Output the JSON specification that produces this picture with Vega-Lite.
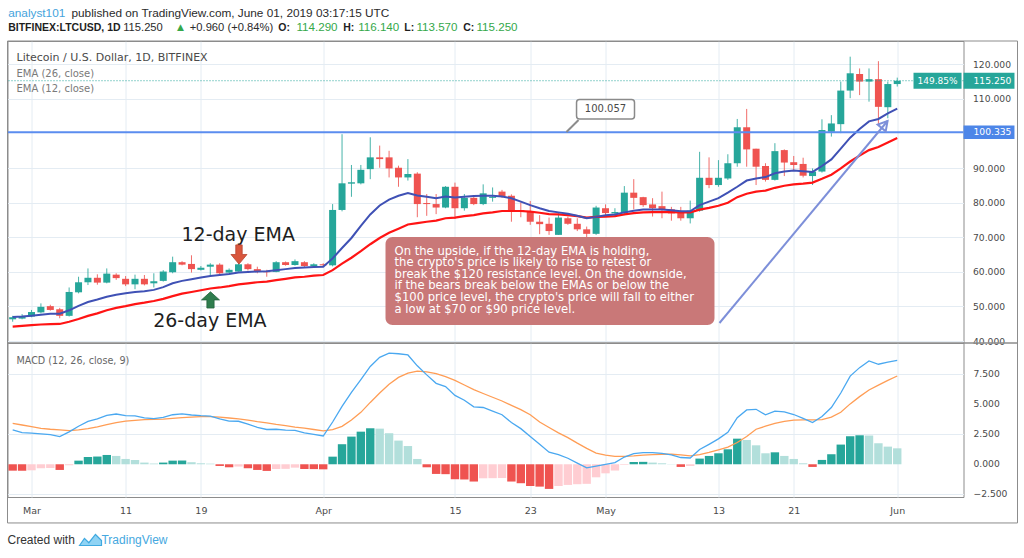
{
"$schema":"https://vega.github.io/schema/vega-lite/v6.json",
"background":"white",
"padding":{"left":5.5,"top":7,"right":0,"bottom":0},
"spacing":0,
"bounds":"flush",
"config":{"view":{"stroke":"#8c8c8c","strokeWidth":1},"scale":{"continuousPadding":0},"axis":{"labelFont":"DejaVu Sans","labelColor":"#4a4a4a","gridColor":"#e4ecf3","domain":false,"ticks":false,"labelFlush":false,"labelOverlap":false}},
"datasets":{"ltc":[
{"date":"2019-02-27","o":46.3,"h":47.3,"l":45.6,"c":46.9,"e12":47.0,"e26":44.2,"m":2.84,"s":3.39,"hi":-0.53},
{"date":"2019-02-28","o":46.5,"h":47.8,"l":46.3,"c":47.1,"e12":47.1,"e26":44.4,"m":2.62,"s":3.25,"hi":-0.53},
{"date":"2019-03-01","o":47.1,"h":49.0,"l":46.9,"c":48.4,"e12":47.3,"e26":44.6,"m":2.58,"s":3.12,"hi":-0.5},
{"date":"2019-03-02","o":48.3,"h":50.9,"l":48.0,"c":49.9,"e12":47.6,"e26":44.8,"m":2.52,"s":2.98,"hi":-0.33},
{"date":"2019-03-03","o":50.1,"h":50.5,"l":48.8,"c":49.0,"e12":47.9,"e26":44.9,"m":2.45,"s":2.9,"hi":-0.31},
{"date":"2019-03-04","o":49.2,"h":49.6,"l":46.6,"c":47.3,"e12":47.9,"e26":44.95,"m":2.29,"s":2.84,"hi":-0.47},
{"date":"2019-03-05","o":47.3,"h":55.5,"l":47.1,"c":54.2,"e12":48.9,"e26":45.6,"m":2.68,"s":2.78,"hi":-0.08},
{"date":"2019-03-06","o":54.1,"h":58.6,"l":53.8,"c":57.0,"e12":50.2,"e26":46.4,"m":3.15,"s":2.85,"hi":0.3},
{"date":"2019-03-07","o":57.0,"h":61.0,"l":56.2,"c":58.3,"e12":51.3,"e26":47.3,"m":3.55,"s":2.95,"hi":0.6},
{"date":"2019-03-08","o":58.3,"h":59.3,"l":56.3,"c":56.9,"e12":52.0,"e26":48.0,"m":3.75,"s":3.1,"hi":0.64},
{"date":"2019-03-09","o":56.9,"h":61.0,"l":56.7,"c":59.5,"e12":52.8,"e26":48.9,"m":4.05,"s":3.28,"hi":0.77},
{"date":"2019-03-10","o":59.2,"h":59.6,"l":57.7,"c":58.2,"e12":53.4,"e26":49.6,"m":4.16,"s":3.45,"hi":0.69},
{"date":"2019-03-11","o":58.0,"h":58.8,"l":55.9,"c":56.4,"e12":53.8,"e26":50.1,"m":4.02,"s":3.58,"hi":0.44},
{"date":"2019-03-12","o":56.4,"h":59.2,"l":55.0,"c":58.0,"e12":54.2,"e26":50.7,"m":4.0,"s":3.64,"hi":0.36},
{"date":"2019-03-13","o":58.0,"h":59.1,"l":56.1,"c":56.4,"e12":54.4,"e26":51.1,"m":3.84,"s":3.7,"hi":0.14},
{"date":"2019-03-14","o":56.7,"h":59.6,"l":55.5,"c":57.3,"e12":54.8,"e26":51.6,"m":3.78,"s":3.72,"hi":0.06},
{"date":"2019-03-15","o":57.4,"h":60.5,"l":57.2,"c":60.1,"e12":55.6,"e26":52.2,"m":3.88,"s":3.74,"hi":0.14},
{"date":"2019-03-16","o":59.9,"h":64.4,"l":59.6,"c":62.8,"e12":56.7,"e26":53.0,"m":4.1,"s":3.8,"hi":0.3},
{"date":"2019-03-17","o":62.8,"h":63.1,"l":61.9,"c":62.1,"e12":57.4,"e26":53.7,"m":4.17,"s":3.86,"hi":0.31},
{"date":"2019-03-18","o":62.3,"h":64.8,"l":59.8,"c":60.8,"e12":57.9,"e26":54.2,"m":4.08,"s":3.91,"hi":0.17},
{"date":"2019-03-19","o":60.6,"h":61.7,"l":60.4,"c":61.2,"e12":58.4,"e26":54.7,"m":4.02,"s":3.94,"hi":0.08},
{"date":"2019-03-20","o":61.5,"h":62.5,"l":59.0,"c":62.1,"e12":58.8,"e26":55.2,"m":3.99,"s":3.94,"hi":0.05},
{"date":"2019-03-21","o":62.1,"h":62.5,"l":59.1,"c":59.6,"e12":59.1,"e26":55.5,"m":3.76,"s":3.9,"hi":-0.14},
{"date":"2019-03-22","o":59.8,"h":61.0,"l":59.6,"c":60.6,"e12":59.4,"e26":55.9,"m":3.58,"s":3.83,"hi":-0.25},
{"date":"2019-03-23","o":60.1,"h":62.5,"l":60.1,"c":62.2,"e12":59.8,"e26":56.4,"m":3.56,"s":3.75,"hi":-0.19},
{"date":"2019-03-24","o":62.2,"h":62.5,"l":60.4,"c":60.8,"e12":60.0,"e26":56.7,"m":3.33,"s":3.66,"hi":-0.33},
{"date":"2019-03-25","o":60.8,"h":61.5,"l":59.6,"c":60.0,"e12":60.1,"e26":57.0,"m":3.06,"s":3.53,"hi":-0.47},
{"date":"2019-03-26","o":60.1,"h":60.6,"l":58.6,"c":59.9,"e12":60.2,"e26":57.2,"m":2.88,"s":3.42,"hi":-0.55},
{"date":"2019-03-27","o":60.0,"h":63.1,"l":59.9,"c":62.8,"e12":60.5,"e26":57.6,"m":2.9,"s":3.3,"hi":-0.39},
{"date":"2019-03-28","o":62.8,"h":63.0,"l":61.8,"c":62.0,"e12":60.8,"e26":58.0,"m":2.82,"s":3.2,"hi":-0.38},
{"date":"2019-03-29","o":62.0,"h":63.6,"l":61.8,"c":63.1,"e12":61.1,"e26":58.4,"m":2.8,"s":3.08,"hi":-0.28},
{"date":"2019-03-30","o":62.8,"h":63.1,"l":61.3,"c":61.7,"e12":61.3,"e26":58.6,"m":2.6,"s":2.99,"hi":-0.39},
{"date":"2019-03-31","o":61.7,"h":62.5,"l":61.4,"c":62.2,"e12":61.4,"e26":58.9,"m":2.48,"s":2.88,"hi":-0.4},
{"date":"2019-04-01","o":62.2,"h":62.5,"l":61.6,"c":61.9,"e12":61.5,"e26":59.1,"m":2.34,"s":2.76,"hi":-0.42},
{"date":"2019-04-02","o":61.9,"h":79.6,"l":61.6,"c":77.9,"e12":63.9,"e26":60.5,"m":3.5,"s":2.87,"hi":0.63},
{"date":"2019-04-03","o":77.9,"h":99.8,"l":77.5,"c":85.6,"e12":66.9,"e26":62.4,"m":4.8,"s":3.14,"hi":1.66},
{"date":"2019-04-04","o":85.5,"h":90.9,"l":81.7,"c":85.9,"e12":69.8,"e26":64.1,"m":5.95,"s":3.66,"hi":2.29},
{"date":"2019-04-05","o":85.6,"h":90.9,"l":85.3,"c":89.5,"e12":73.3,"e26":66.0,"m":7.0,"s":4.3,"hi":2.7},
{"date":"2019-04-06","o":89.7,"h":98.9,"l":86.8,"c":93.1,"e12":76.6,"e26":68.0,"m":8.1,"s":5.12,"hi":2.98},
{"date":"2019-04-07","o":93.1,"h":96.5,"l":90.1,"c":92.6,"e12":79.2,"e26":69.8,"m":8.85,"s":5.9,"hi":2.95},
{"date":"2019-04-08","o":93.1,"h":95.0,"l":87.3,"c":89.9,"e12":80.9,"e26":71.3,"m":9.2,"s":6.63,"hi":2.57},
{"date":"2019-04-09","o":90.1,"h":90.7,"l":84.6,"c":87.3,"e12":82.0,"e26":72.5,"m":9.15,"s":7.19,"hi":1.96},
{"date":"2019-04-10","o":87.3,"h":92.6,"l":86.4,"c":88.3,"e12":82.8,"e26":73.7,"m":9.05,"s":7.54,"hi":1.51},
{"date":"2019-04-11","o":88.4,"h":88.8,"l":75.8,"c":79.6,"e12":82.1,"e26":74.1,"m":8.15,"s":7.71,"hi":0.44},
{"date":"2019-04-12","o":79.9,"h":82.5,"l":76.2,"c":79.6,"e12":81.7,"e26":74.5,"m":7.4,"s":7.65,"hi":-0.25},
{"date":"2019-04-13","o":79.6,"h":82.5,"l":76.7,"c":78.6,"e12":81.3,"e26":74.8,"m":6.7,"s":7.5,"hi":-0.8},
{"date":"2019-04-14","o":78.6,"h":84.8,"l":78.4,"c":84.6,"e12":81.8,"e26":75.5,"m":6.43,"s":7.25,"hi":-0.82},
{"date":"2019-04-15","o":84.6,"h":85.8,"l":75.3,"c":78.4,"e12":81.5,"e26":75.7,"m":5.7,"s":6.94,"hi":-1.24},
{"date":"2019-04-16","o":78.4,"h":82.5,"l":77.7,"c":81.4,"e12":81.7,"e26":76.1,"m":5.3,"s":6.56,"hi":-1.26},
{"date":"2019-04-17","o":81.4,"h":81.7,"l":79.3,"c":79.6,"e12":81.9,"e26":76.4,"m":4.75,"s":6.18,"hi":-1.43},
{"date":"2019-04-18","o":79.6,"h":85.3,"l":79.3,"c":82.7,"e12":82.0,"e26":76.9,"m":4.7,"s":5.86,"hi":-1.16},
{"date":"2019-04-19","o":81.4,"h":84.4,"l":80.3,"c":81.7,"e12":82.0,"e26":77.2,"m":4.4,"s":5.55,"hi":-1.15},
{"date":"2019-04-20","o":83.2,"h":83.7,"l":81.4,"c":81.8,"e12":81.8,"e26":77.6,"m":4.1,"s":5.24,"hi":-1.14},
{"date":"2019-04-21","o":82.0,"h":82.4,"l":74.5,"c":77.6,"e12":81.3,"e26":77.6,"m":3.45,"s":4.88,"hi":-1.43},
{"date":"2019-04-22","o":77.9,"h":80.1,"l":75.8,"c":77.6,"e12":80.3,"e26":77.6,"m":2.95,"s":4.52,"hi":-1.57},
{"date":"2019-04-23","o":77.6,"h":80.5,"l":73.6,"c":74.5,"e12":79.3,"e26":77.4,"m":2.3,"s":4.1,"hi":-1.8},
{"date":"2019-04-24","o":74.5,"h":76.4,"l":70.9,"c":73.8,"e12":78.4,"e26":77.1,"m":1.65,"s":3.5,"hi":-1.85},
{"date":"2019-04-25","o":73.9,"h":75.7,"l":70.7,"c":71.8,"e12":77.6,"e26":76.7,"m":1.0,"s":3.04,"hi":-2.04},
{"date":"2019-04-26","o":70.7,"h":76.9,"l":70.7,"c":75.7,"e12":77.2,"e26":76.6,"m":0.8,"s":2.6,"hi":-1.8},
{"date":"2019-04-27","o":75.5,"h":76.0,"l":73.6,"c":73.9,"e12":76.8,"e26":76.4,"m":0.5,"s":2.21,"hi":-1.71},
{"date":"2019-04-28","o":73.9,"h":75.5,"l":71.8,"c":72.3,"e12":76.2,"e26":76.1,"m":0.1,"s":1.75,"hi":-1.65},
{"date":"2019-04-29","o":72.3,"h":73.1,"l":69.4,"c":71.0,"e12":75.5,"e26":75.7,"m":-0.3,"s":1.32,"hi":-1.62},
{"date":"2019-04-30","o":71.0,"h":79.1,"l":70.7,"c":78.6,"e12":75.9,"e26":75.9,"m":-0.15,"s":0.93,"hi":-1.08},
{"date":"2019-05-01","o":78.4,"h":79.5,"l":76.4,"c":77.0,"e12":76.4,"e26":76.0,"m":0.0,"s":0.75,"hi":-0.75},
{"date":"2019-05-02","o":76.9,"h":78.4,"l":76.2,"c":77.3,"e12":76.6,"e26":76.1,"m":0.14,"s":0.66,"hi":-0.52},
{"date":"2019-05-03","o":77.0,"h":84.8,"l":76.4,"c":82.9,"e12":77.2,"e26":76.6,"m":0.6,"s":0.65,"hi":-0.05},
{"date":"2019-05-04","o":82.9,"h":86.8,"l":78.1,"c":81.4,"e12":77.7,"e26":77.0,"m":0.88,"s":0.69,"hi":0.19},
{"date":"2019-05-05","o":81.6,"h":81.7,"l":78.8,"c":79.3,"e12":78.0,"e26":77.2,"m":0.96,"s":0.75,"hi":0.2},
{"date":"2019-05-06","o":79.5,"h":81.3,"l":76.0,"c":78.4,"e12":78.0,"e26":77.3,"m":0.96,"s":0.8,"hi":0.14},
{"date":"2019-05-07","o":79.0,"h":83.2,"l":75.5,"c":77.9,"e12":78.0,"e26":77.3,"m":0.9,"s":0.83,"hi":0.08},
{"date":"2019-05-08","o":78.1,"h":78.8,"l":74.8,"c":76.9,"e12":77.8,"e26":77.3,"m":0.78,"s":0.83,"hi":0.02},
{"date":"2019-05-09","o":77.2,"h":78.8,"l":74.8,"c":75.5,"e12":77.5,"e26":77.2,"m":0.56,"s":0.78,"hi":-0.22},
{"date":"2019-05-10","o":75.5,"h":80.6,"l":74.0,"c":77.7,"e12":77.5,"e26":77.2,"m":0.52,"s":0.7,"hi":-0.14},
{"date":"2019-05-11","o":77.7,"h":94.7,"l":77.4,"c":87.2,"e12":79.3,"e26":78.0,"m":1.22,"s":0.8,"hi":0.47},
{"date":"2019-05-12","o":87.2,"h":93.1,"l":84.2,"c":85.1,"e12":80.3,"e26":78.5,"m":1.65,"s":0.98,"hi":0.69},
{"date":"2019-05-13","o":85.1,"h":92.3,"l":84.6,"c":87.2,"e12":81.3,"e26":79.1,"m":2.1,"s":1.2,"hi":0.91},
{"date":"2019-05-14","o":87.0,"h":94.0,"l":86.6,"c":91.4,"e12":82.9,"e26":80.0,"m":2.65,"s":1.42,"hi":1.24},
{"date":"2019-05-15","o":91.4,"h":104.2,"l":90.4,"c":101.8,"e12":84.6,"e26":81.6,"m":3.85,"s":1.8,"hi":2.12},
{"date":"2019-05-16","o":101.8,"h":107.1,"l":90.4,"c":95.4,"e12":86.4,"e26":82.6,"m":4.5,"s":2.3,"hi":2.01},
{"date":"2019-05-17","o":95.6,"h":95.6,"l":85.1,"c":90.4,"e12":87.0,"e26":83.2,"m":4.55,"s":2.9,"hi":1.57},
{"date":"2019-05-18","o":90.6,"h":91.4,"l":86.1,"c":86.6,"e12":87.4,"e26":83.5,"m":4.1,"s":3.15,"hi":0.91},
{"date":"2019-05-19","o":86.6,"h":97.2,"l":86.4,"c":94.9,"e12":88.5,"e26":84.3,"m":4.4,"s":3.38,"hi":0.99},
{"date":"2019-05-20","o":95.2,"h":95.4,"l":87.7,"c":91.6,"e12":89.0,"e26":84.9,"m":4.33,"s":3.55,"hi":0.69},
{"date":"2019-05-21","o":91.7,"h":93.5,"l":89.4,"c":90.9,"e12":89.3,"e26":85.3,"m":4.12,"s":3.65,"hi":0.44},
{"date":"2019-05-22","o":91.2,"h":93.0,"l":87.3,"c":87.8,"e12":89.1,"e26":85.5,"m":3.8,"s":3.68,"hi":0.08},
{"date":"2019-05-23","o":87.7,"h":89.9,"l":85.1,"c":89.0,"e12":88.9,"e26":85.8,"m":3.45,"s":3.67,"hi":-0.22},
{"date":"2019-05-24","o":89.0,"h":104.1,"l":88.7,"c":101.0,"e12":90.6,"e26":86.9,"m":3.95,"s":3.7,"hi":0.36},
{"date":"2019-05-25","o":100.5,"h":105.3,"l":99.1,"c":102.9,"e12":92.5,"e26":88.1,"m":4.7,"s":3.9,"hi":0.83},
{"date":"2019-05-26","o":102.7,"h":115.0,"l":100.1,"c":112.4,"e12":95.6,"e26":89.9,"m":5.9,"s":4.3,"hi":1.63},
{"date":"2019-05-27","o":112.4,"h":122.2,"l":110.2,"c":117.4,"e12":98.8,"e26":91.9,"m":7.3,"s":5.0,"hi":2.32},
{"date":"2019-05-28","o":117.2,"h":118.8,"l":111.1,"c":115.0,"e12":101.3,"e26":93.6,"m":8.0,"s":5.6,"hi":2.4},
{"date":"2019-05-29","o":115.0,"h":118.8,"l":109.2,"c":115.7,"e12":103.5,"e26":95.2,"m":8.55,"s":6.15,"hi":2.38},
{"date":"2019-05-30","o":115.7,"h":120.9,"l":102.5,"c":107.7,"e12":104.2,"e26":96.1,"m":8.28,"s":6.55,"hi":1.74},
{"date":"2019-05-31","o":107.6,"h":115.0,"l":104.4,"c":114.29,"e12":105.8,"e26":97.4,"m":8.45,"s":6.95,"hi":1.46},
{"date":"2019-06-01","o":114.29,"h":116.14,"l":113.57,"c":115.25,"e12":107.2,"e26":98.7,"m":8.6,"s":7.31,"hi":1.32}
]},
"vconcat":[
{"width":956,"height":302,
"layer":[
{"data":{"name":"ltc"},"mark":{"type":"rule","strokeWidth":1,"opacity":0.85},
 "encoding":{
  "x":{"field":"date","type":"temporal","title":null,"scale":{"type":"utc","nice":false,"padding":0,"domain":[{"year":2019,"month":2,"date":26,"hours":10,"minutes":48,"utc":true},{"year":2019,"month":6,"date":8,"hours":1,"utc":true}]},
   "axis":{"values":[{"year":2019,"month":3,"date":1,"utc":true},{"year":2019,"month":3,"date":11,"utc":true},{"year":2019,"month":3,"date":19,"utc":true},{"year":2019,"month":4,"date":1,"utc":true},{"year":2019,"month":4,"date":15,"utc":true},{"year":2019,"month":4,"date":23,"utc":true},{"year":2019,"month":5,"date":1,"utc":true},{"year":2019,"month":5,"date":13,"utc":true},{"year":2019,"month":5,"date":21,"utc":true},{"year":2019,"month":6,"date":1,"utc":true}],"grid":true,"labels":false}},
  "y":{"field":"l","type":"quantitative","title":null,"scale":{"domain":[39.45,126.73],"nice":false,"zero":false},
   "axis":{"orient":"right","values":[40,50,60,70,80,90,110,120],"format":".3f","grid":true,"labelPadding":9,"labelFontSize":9.2,"labelOverlap":false}},
  "y2":{"field":"h"},
  "color":{"condition":{"test":"datum.c >= datum.o","value":"#26a69a"},"value":"#ef5350"}}},
{"data":{"name":"ltc"},"mark":{"type":"bar","width":7},
 "encoding":{
  "x":{"field":"date","type":"temporal","title":null},
  "y":{"field":"o","type":"quantitative","title":null},
  "y2":{"field":"c"},
  "color":{"condition":{"test":"datum.c >= datum.o","value":"#26a69a"},"value":"#ef5350"}}},
{"data":{"name":"ltc"},"mark":{"type":"line","color":"#ff1414","strokeWidth":2.2},
 "encoding":{"x":{"field":"date","type":"temporal","title":null},"y":{"field":"e26","type":"quantitative","title":null}}},
{"data":{"name":"ltc"},"mark":{"type":"line","color":"#3f51b5","strokeWidth":2},
 "encoding":{"x":{"field":"date","type":"temporal","title":null},"y":{"field":"e12","type":"quantitative","title":null}}},
{"data":{"values":[{"price":100.335}]},"mark":{"type":"rule","color":"#5b8def","strokeWidth":2},
 "encoding":{"y":{"field":"price","type":"quantitative","title":null}}},
{"data":{"values":[{"price":115.25}]},"mark":{"type":"rule","color":"#26a69a","strokeWidth":1,"strokeDash":[1,2]},
 "encoding":{"y":{"field":"price","type":"quantitative","title":null}}},
{"data":{"values":[{"date":"2019-04-07T14:53:00Z","date2":"2019-05-12T13:55:00Z","price":70.09,"price2":44.66}]},
 "mark":{"type":"rect","color":"#c97878","cornerRadius":7,"clip":false},
 "encoding":{"x":{"field":"date","type":"temporal","title":null},"x2":{"field":"date2"},"y":{"field":"price","type":"quantitative","title":null},"y2":{"field":"price2"}}},
{"data":{"values":[{"date":"2019-04-08T13:55:00Z","price":67.57}]},
 "mark":{"type":"text","align":"left","baseline":"top","font":"DejaVu Sans","fontSize":11.6,"lineHeight":11.6,"color":"white","clip":false,
  "text":["On the upside, if the 12-day EMA is holding,","the crypto's price is likely to rise to retest or","break the $120 resistance level. On the downside,","if the bears break below the EMAs or below the","$100 price level, the crypto's price will fall to either","a low at $70 or $90 price level."]},
 "encoding":{"x":{"field":"date","type":"temporal","title":null},"y":{"field":"price","type":"quantitative","title":null}}},
{"data":{"values":[{"date":"2019-05-13T02:40:00Z","price":45.23},{"date":"2019-05-30T23:15:00Z","price":103.61}]},
 "mark":{"type":"line","color":"#7d8fd9","strokeWidth":2,"clip":false},
 "encoding":{"x":{"field":"date","type":"temporal","title":null},"y":{"field":"price","type":"quantitative","title":null}}},
{"data":{"values":[{"date":"2019-05-30T23:15:00Z","price":103.61}]},
 "mark":{"type":"point","shape":"M0,0L0.75,1.3L-0.75,1.3Z","size":196,"angle":40,"filled":false,"color":"#7d8fd9","strokeWidth":2,"opacity":1,"clip":false},
 "encoding":{"x":{"field":"date","type":"temporal","title":null},"y":{"field":"price","type":"quantitative","title":null}}},
{"data":{"values":[{"date":"2019-04-26T20:25:00Z","price":100.43},{"date":"2019-04-28T03:10:00Z","price":103.9}]},
 "mark":{"type":"line","color":"#8c8c8c","strokeWidth":2,"clip":false},
 "encoding":{"x":{"field":"date","type":"temporal","title":null},"y":{"field":"price","type":"quantitative","title":null}}},
{"data":{"values":[{"date":"2019-04-27T22:05:00Z","date2":"2019-05-04T01:55:00Z","price":104.19,"price2":109.83}]},
 "mark":{"type":"rect","fill":"white","stroke":"#8a8a8a","strokeWidth":1.5,"cornerRadius":3,"clip":false},
 "encoding":{"x":{"field":"date","type":"temporal","title":null},"x2":{"field":"date2"},"y":{"field":"price","type":"quantitative","title":null},"y2":{"field":"price2"}}},
{"data":{"values":[{"date":"2019-05-01T00:00:00Z","price":107.0,"text":"100.057"}]},
 "mark":{"type":"text","align":"center","baseline":"middle","font":"DejaVu Sans","fontSize":10,"color":"#4a4a4a","clip":false},
 "encoding":{"x":{"field":"date","type":"temporal","title":null},"y":{"field":"price","type":"quantitative","title":null},"text":{"field":"text"}}},
{"data":{"values":[{"date":"2019-03-16T22:33:00Z","price":70.67,"text":"12-day EMA"},{"date":"2019-03-13T22:20:00Z","price":45.94,"text":"26-day EMA"}]},
 "mark":{"type":"text","align":"left","baseline":"middle","font":"DejaVu Sans","fontSize":19,"color":"#1e1e1e","clip":false},
 "encoding":{"x":{"field":"date","type":"temporal","title":null},"y":{"field":"price","type":"quantitative","title":null},"text":{"field":"text"}}},
{"data":{"values":[{"date":"2019-03-23T01:10:00Z","price":65.03}]},
 "mark":{"type":"point","shape":"M-0.4,-1.2L0.4,-1.2L0.4,0L1,0L0,1.2L-1,0L-0.4,0Z","size":256,"filled":true,"color":"#d9563d","stroke":"#b8432f","strokeWidth":0.8,"opacity":1,"clip":false},
 "encoding":{"x":{"field":"date","type":"temporal","title":null},"y":{"field":"price","type":"quantitative","title":null}}},
{"data":{"values":[{"date":"2019-03-20T00:30:00Z","price":51.9}]},
 "mark":{"type":"point","shape":"M-0.4,0.9L0.4,0.9L0.4,0L1,0L0,-0.9L-1,0L-0.4,0Z","size":324,"filled":true,"color":"#2f7d4e","stroke":"#24633d","strokeWidth":0.8,"opacity":1,"clip":false},
 "encoding":{"x":{"field":"date","type":"temporal","title":null},"y":{"field":"price","type":"quantitative","title":null}}},
{"data":{"values":[{"date":"2019-02-27T09:45:00Z","price":121.73,"text":"Litecoin / U.S. Dollar, 1D, BITFINEX"}]},
 "mark":{"type":"text","align":"left","baseline":"middle","font":"DejaVu Sans","fontSize":11,"color":"#4a4a4a","clip":false},
 "encoding":{"x":{"field":"date","type":"temporal","title":null},"y":{"field":"price","type":"quantitative","title":null},"text":{"field":"text"}}},
{"data":{"values":[{"date":"2019-02-27T09:45:00Z","price":117.2,"text":"EMA (26, close)"},{"date":"2019-02-27T09:45:00Z","price":112.77,"text":"EMA (12, close)"}]},
 "mark":{"type":"text","align":"left","baseline":"middle","font":"DejaVu Sans","fontSize":10,"color":"#7a7a7a","clip":false},
 "encoding":{"x":{"field":"date","type":"temporal","title":null},"y":{"field":"price","type":"quantitative","title":null},"text":{"field":"text"}}},
{"data":{"values":[{"date":"2019-06-08T01:00:00Z","date2":"2019-06-13T11:00:00Z","price":112.94,"price2":117.56},{"date":"2019-06-02T17:30:00Z","date2":"2019-06-07T20:00:00Z","price":112.94,"price2":117.56}]},
 "mark":{"type":"rect","color":"#26a69a","clip":false},
 "encoding":{"x":{"field":"date","type":"temporal","title":null},"x2":{"field":"date2"},"y":{"field":"price","type":"quantitative","title":null},"y2":{"field":"price2"}}},
{"data":{"values":[{"date":"2019-06-08T01:00:00Z","date2":"2019-06-13T11:00:00Z","price":98.39,"price2":102.29}]},
 "mark":{"type":"rect","color":"#4d86e8","clip":false},
 "encoding":{"x":{"field":"date","type":"temporal","title":null},"x2":{"field":"date2"},"y":{"field":"price","type":"quantitative","title":null},"y2":{"field":"price2"}}},
{"data":{"values":[{"date":"2019-06-09T02:24:00Z","price":115.25,"text":"115.250"},{"date":"2019-06-09T02:24:00Z","price":100.335,"text":"100.335"}]},
 "mark":{"type":"text","align":"left","baseline":"middle","font":"DejaVu Sans","fontSize":9.2,"color":"white","clip":false},
 "encoding":{"x":{"field":"date","type":"temporal","title":null},"y":{"field":"price","type":"quantitative","title":null},"text":{"field":"text"}}},
{"data":{"values":[{"date":"2019-06-05T06:43:00Z","price":115.25,"text":"149.85%"}]},
 "mark":{"type":"text","align":"center","baseline":"middle","font":"DejaVu Sans","fontSize":9,"color":"white","clip":false},
 "encoding":{"x":{"field":"date","type":"temporal","title":null},"y":{"field":"price","type":"quantitative","title":null},"text":{"field":"text"}}},
{"data":{"values":[{"date":"2019-02-26T12:34:00Z","price":134.91,"text":"analyst101"}]},
 "mark":{"type":"text","align":"left","baseline":"middle","font":"Liberation Sans","fontSize":11.8,"color":"#45a3dc","clip":false},
 "encoding":{"x":{"field":"date","type":"temporal","title":null},"y":{"field":"price","type":"quantitative","title":null},"text":{"field":"text"}}},
{"data":{"values":[{"date":"2019-03-05T06:01:00Z","price":134.91,"text":"published on TradingView.com, June 01, 2019 03:17:15 UTC"}]},
 "mark":{"type":"text","align":"left","baseline":"middle","font":"Liberation Sans","fontSize":11.8,"color":"#2b2b2b","clip":false},
 "encoding":{"x":{"field":"date","type":"temporal","title":null},"y":{"field":"price","type":"quantitative","title":null},"text":{"field":"text"}}},
{"data":{"values":[{"date":"2019-03-10T17:53:00Z","price":130.4,"text":"115.250"},{"date":"2019-03-17T19:41:00Z","price":130.4,"text":"+0.960 (+0.84%)"}]},
 "mark":{"type":"text","align":"left","baseline":"middle","font":"Liberation Sans","fontSize":11.2,"color":"#2b2b2b","clip":false},
 "encoding":{"x":{"field":"date","type":"temporal","title":null},"y":{"field":"price","type":"quantitative","title":null},"text":{"field":"text"}}},
{"data":{"values":[{"date":"2019-02-26T12:34:00Z","price":130.4,"text":"BITFINEX:LTCUSD, 1D"},{"date":"2019-03-27T05:16:00Z","price":130.4,"text":"O:"},{"date":"2019-04-03T02:53:00Z","price":130.4,"text":"H:"},{"date":"2019-04-09T14:38:00Z","price":130.4,"text":"L:"},{"date":"2019-04-15T21:07:00Z","price":130.4,"text":"C:"}]},
 "mark":{"type":"text","align":"left","baseline":"middle","font":"Liberation Sans","fontSize":10.5,"fontWeight":"bold","color":"#1e1e1e","clip":false},
 "encoding":{"x":{"field":"date","type":"temporal","title":null},"y":{"field":"price","type":"quantitative","title":null},"text":{"field":"text"}}},
{"data":{"values":[{"date":"2019-03-16T05:30:00Z","price":130.4,"text":"▲"},{"date":"2019-03-29T03:50:00Z","price":130.4,"text":"114.290"},{"date":"2019-04-04T17:16:00Z","price":130.4,"text":"116.140"},{"date":"2019-04-10T21:50:00Z","price":130.4,"text":"113.570"},{"date":"2019-04-17T06:58:00Z","price":130.4,"text":"115.250"}]},
 "mark":{"type":"text","align":"left","baseline":"middle","font":"Liberation Sans","fontSize":11.6,"color":"#34a84a","clip":false},
 "encoding":{"x":{"field":"date","type":"temporal","title":null},"y":{"field":"price","type":"quantitative","title":null},"text":{"field":"text"}}},
{"data":{"values":[{"date":"2019-02-26T10:48:00Z","date2":"2019-06-13T18:45:00Z","price":39.45,"price2":126.73}]},
 "mark":{"type":"rect","filled":false,"color":"#8c8c8c","strokeWidth":1,"clip":false},
 "encoding":{"x":{"field":"date","type":"temporal","title":null},"x2":{"field":"date2"},"y":{"field":"price","type":"quantitative","title":null},"y2":{"field":"price2"}}}
]},
{"width":956,"height":154,
"layer":[
{"data":{"name":"ltc"},"transform":[{"window":[{"op":"lag","field":"hi","as":"prev"}],"sort":[{"field":"date","order":"ascending"}]}],
 "mark":{"type":"bar","width":8.4},
 "encoding":{
  "x":{"field":"date","type":"temporal","title":null,"scale":{"type":"utc","nice":false,"padding":0,"domain":[{"year":2019,"month":2,"date":26,"hours":10,"minutes":48,"utc":true},{"year":2019,"month":6,"date":8,"hours":1,"utc":true}]},
   "axis":{"values":[{"year":2019,"month":3,"date":1,"utc":true},{"year":2019,"month":3,"date":11,"utc":true},{"year":2019,"month":3,"date":19,"utc":true},{"year":2019,"month":4,"date":1,"utc":true},{"year":2019,"month":4,"date":15,"utc":true},{"year":2019,"month":4,"date":23,"utc":true},{"year":2019,"month":5,"date":1,"utc":true},{"year":2019,"month":5,"date":13,"utc":true},{"year":2019,"month":5,"date":21,"utc":true},{"year":2019,"month":6,"date":1,"utc":true}],
    "grid":true,"labelExpr":"utcdate(datum.value) == 1 ? utcFormat(datum.value, '%b') : utcFormat(datum.value, '%-d')","labelPadding":8,"labelFontSize":9.5,"labelOverlap":false}},
  "y":{"field":"hi","type":"quantitative","title":null,"scale":{"domain":[-2.71,10.04],"nice":false,"zero":false},
   "axis":{"orient":"right","values":[-2.5,0,2.5,5,7.5],"grid":true,"labels":false}},
  "y2":{"datum":0},
  "color":{"condition":[{"test":"datum.hi >= 0 && datum.prev < datum.hi","value":"#26a69a"},{"test":"datum.hi >= 0","value":"#b2dfdb"},{"test":"datum.prev < datum.hi","value":"#ffcdd2"}],"value":"#ef5350"}}},
{"data":{"name":"ltc"},"mark":{"type":"line","color":"#ff9d55","strokeWidth":1.3},
 "encoding":{"x":{"field":"date","type":"temporal","title":null},"y":{"field":"s","type":"quantitative","title":null}}},
{"data":{"name":"ltc"},"mark":{"type":"line","color":"#4aa8f0","strokeWidth":1.3},
 "encoding":{"x":{"field":"date","type":"temporal","title":null},"y":{"field":"m","type":"quantitative","title":null}}},
{"data":{"values":[{"date":"2019-06-09T02:24:00Z","value":7.5,"text":"7.500"},{"date":"2019-06-09T02:24:00Z","value":5,"text":"5.000"},{"date":"2019-06-09T02:24:00Z","value":2.5,"text":"2.500"},{"date":"2019-06-09T02:24:00Z","value":0,"text":"0.000"},{"date":"2019-06-09T02:24:00Z","value":-2.5,"text":"−2.500"}]},
 "mark":{"type":"text","align":"left","baseline":"middle","font":"DejaVu Sans","fontSize":9.2,"color":"#4a4a4a","clip":false},
 "encoding":{"x":{"field":"date","type":"temporal","title":null},"y":{"field":"value","type":"quantitative","title":null},"text":{"field":"text"}}},
{"data":{"values":[{"date":"2019-02-27T09:45:00Z","value":8.58,"text":"MACD (12, 26, close, 9)"}]},
 "mark":{"type":"text","align":"left","baseline":"middle","font":"DejaVu Sans","fontSize":9.6,"color":"#666666","clip":false},
 "encoding":{"x":{"field":"date","type":"temporal","title":null},"y":{"field":"value","type":"quantitative","title":null},"text":{"field":"text"}}},
{"data":{"values":[{"date":"2019-02-26T10:48:00Z","value":-6.27,"text":"Created with"}]},
 "mark":{"type":"text","align":"left","baseline":"middle","font":"Liberation Sans","fontSize":12,"color":"#333333","clip":false},
 "encoding":{"x":{"field":"date","type":"temporal","title":null},"y":{"field":"value","type":"quantitative","title":null},"text":{"field":"text"}}},
{"data":{"values":[{"date":"2019-03-08T10:30:00Z","value":-6.27,"text":"TradingView"}]},
 "mark":{"type":"text","align":"left","baseline":"middle","font":"Liberation Sans","fontSize":12,"color":"#45a8e0","clip":false},
 "encoding":{"x":{"field":"date","type":"temporal","title":null},"y":{"field":"value","type":"quantitative","title":null},"text":{"field":"text"}}},
{"data":{"values":[{"date":"2019-03-07T06:30:00Z","value":-6.27}]},
 "mark":{"type":"point","shape":"M-1,0.5L-0.55,-0.15L-0.15,0.25L0.45,-0.5L1,0.05L1,0.5Z","size":484,"filled":true,"color":"#8fd3f4","stroke":"#3fa9e0","strokeWidth":1.2,"opacity":1,"clip":false},
 "encoding":{"x":{"field":"date","type":"temporal","title":null},"y":{"field":"value","type":"quantitative","title":null}}},
{"data":{"values":[{"date":"2019-02-26T10:48:00Z","date2":"2019-06-13T18:45:00Z","value":10.04,"value2":-4.86}]},
 "mark":{"type":"rect","filled":false,"color":"#8c8c8c","strokeWidth":1,"clip":false},
 "encoding":{"x":{"field":"date","type":"temporal","title":null},"x2":{"field":"date2"},"y":{"field":"value","type":"quantitative","title":null},"y2":{"field":"value2"}}}
]}
]
}
